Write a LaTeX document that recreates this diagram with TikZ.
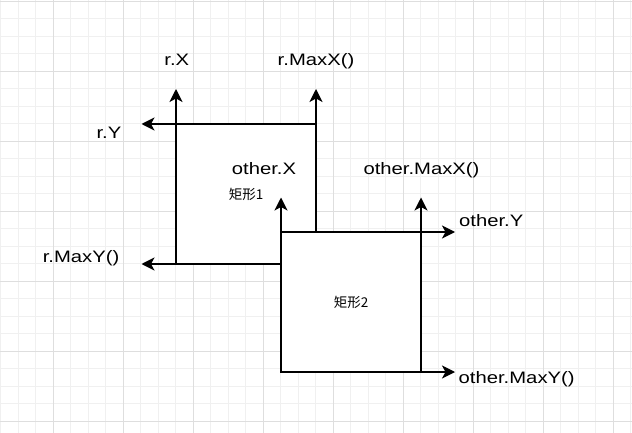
\documentclass[tikz,border=0pt]{standalone}
\usepackage{fontspec}
\newfontfamily\lblfont{Liberation Sans}[FakeStretch=1.22]
\newfontfamily\cjkfont{Noto Sans CJK SC}
\usetikzlibrary{arrows.meta,positioning}
\tikzset{
  rectbox/.style={draw,line width=1.5pt,fill=white,outer sep=0pt,inner sep=0pt,
    minimum width=140pt,minimum height=140pt,font=\cjkfont\fontsize{13.5}{15}\selectfont},
  edge/.style={line width=1.5pt,-{Stealth[length=13pt,width=13pt,inset=3.5pt]}},
  lbl/.style={inner sep=0pt,font=\lblfont\fontsize{16.6}{20}\selectfont},
  minorgrid/.style={line width=1pt,black!6},
  majorgrid/.style={line width=1pt,black!13}
}

\begin{document}
\begin{tikzpicture}[x=1pt,y=-1pt]
  % Canvas
  \useasboundingbox (0,0) rectangle (632,433);
  \fill[white] (0,0) rectangle (632,433);

  % Grid
  \foreach \k in {0,...,36} \draw[minorgrid] ({0.8+17.5*\k},0) -- ({0.8+17.5*\k},433);
  \foreach \k in {0,...,24} \draw[minorgrid] (0,{1.3+17.5*\k}) -- (632,{1.3+17.5*\k});
  \foreach \k in {0,...,8} \draw[majorgrid] ({53.3+70*\k},0) -- ({53.3+70*\k},433);
  \foreach \k in {0,...,6} \draw[majorgrid] (0,{1.3+70*\k}) -- (632,{1.3+70*\k});

  % First rectangle r
  \node[rectbox] (r1) at (246,194) {矩形1};
  \coordinate (r1x)    at (176,89);
  \coordinate (r1maxx) at (316,89);
  \coordinate (r1y)    at (141.5,124);
  \coordinate (r1maxy) at (141.5,264);
  \draw[edge] (r1.north west) -- (r1x);
  \draw[edge] (r1.north east) -- (r1maxx);
  \draw[edge] (r1.north east) -- (r1y);
  \draw[edge] (r1.south east) -- (r1maxy);

  % Second rectangle other (on top)
  \node[rectbox] (r2) at (351,302) {矩形2};
  \coordinate (r2x)    at (281,197.5);
  \coordinate (r2maxx) at (421,197.5);
  \coordinate (r2y)    at (455,232);
  \coordinate (r2maxy) at (455,372);
  \draw[edge] (r2.north west) -- (r2x);
  \draw[edge] (r2.north east) -- (r2maxx);
  \draw[edge] (r2.north west) -- (r2y);
  \draw[edge] (r2.south west) -- (r2maxy);

  % Labels
  \node[lbl,anchor=base]      (lrx)    at (176.8,66)  {r.X};
  \node[lbl,anchor=base]      (lrmaxx) at (316,66)    {r.MaxX()};
  \node[lbl,anchor=base east] (lry)    at (121.5,138.5) {r.Y};
  \node[lbl,anchor=base east] (lrmaxy) at (119.5,262) {r.MaxY()};
  \node[lbl,anchor=base]      (lox)    at (264,175)   {other.X};
  \node[lbl,anchor=base]      (lomaxx) at (421.5,175) {other.MaxX()};
  \node[lbl,anchor=base west] (loy)    at (459,226.5) {other.Y};
  \node[lbl,anchor=base west] (lomaxy) at (458.5,383) {other.MaxY()};
\end{tikzpicture}
\end{document}
